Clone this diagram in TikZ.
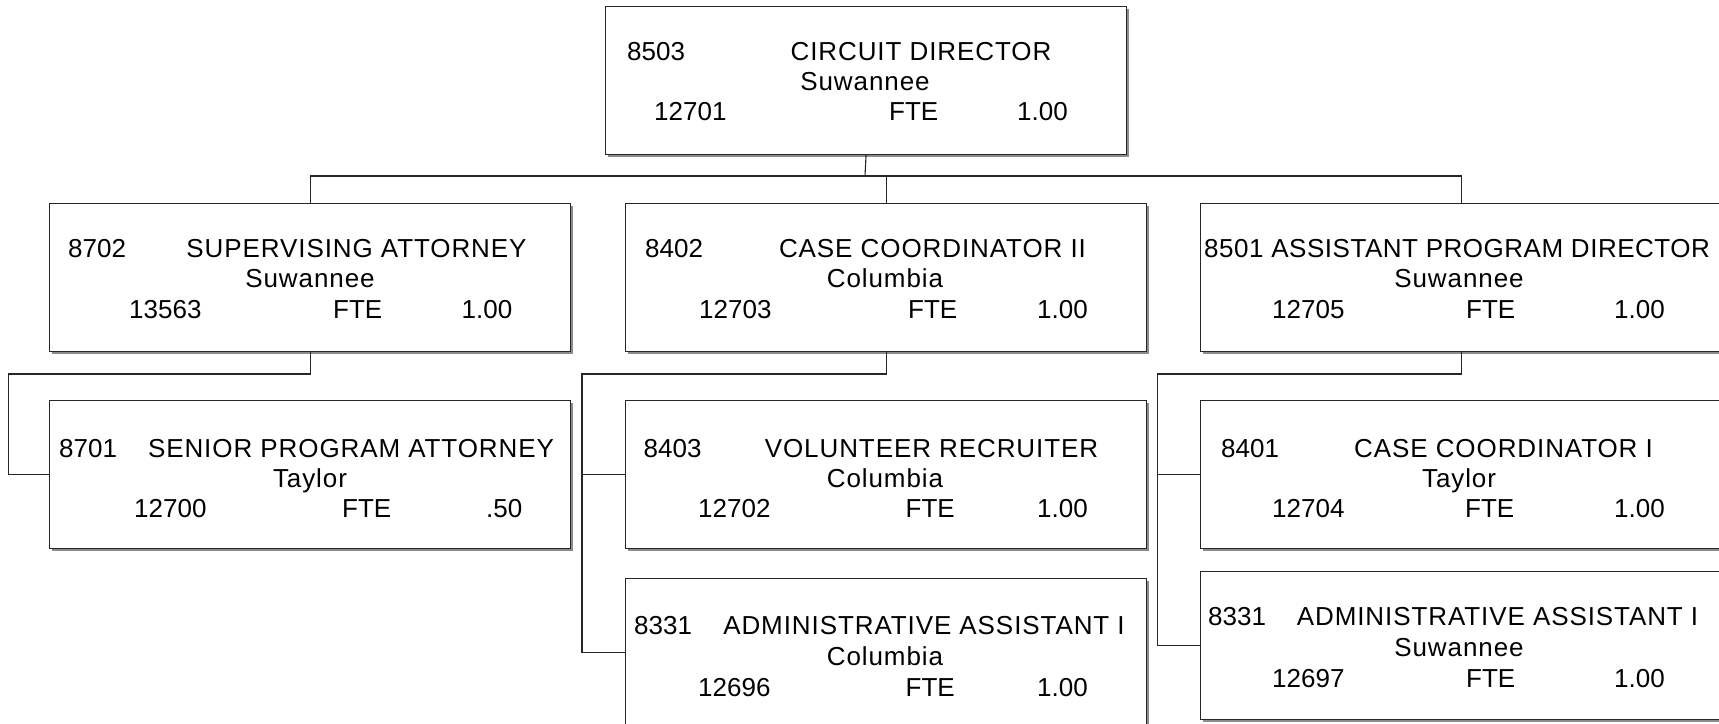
\documentclass[tikz,border=0pt]{standalone}
\usepackage{fontspec}
\setmainfont{Liberation Sans}
\usetikzlibrary{shadows}
\tikzset{
  obox/.style={draw=black!85, line width=1.1pt, fill=white, minimum width=521pt,
    minimum height=148pt, inner sep=0pt, anchor=north west,
    drop shadow={shadow xshift=2.6pt, shadow yshift=-2.6pt, fill=black!45, opacity=1}},
  txt/.style={inner sep=0pt, font=\fontsize{26}{30}\selectfont, text=black},
  wtxt/.style={txt, font=\fontsize{26}{30}\selectfont\addfontfeature{LetterSpace=3.5}},
  ntxt/.style={txt, font=\fontsize{26}{30}\selectfont\addfontfeature{LetterSpace=2}},
  conn/.style={draw=black!85, line width=1.1pt}
}
\newcommand\tx[4]{\node[txt,anchor=#2] (#1) at (#3) {#4};}
\newcommand\tw[4]{\node[wtxt,anchor=#2] (#1) at (#3) {#4};}
\begin{document}
\begin{tikzpicture}[x=1pt,y=-1pt]
\useasboundingbox (0,0) rectangle (1719,723);
\clip (0,0) rectangle (1719,723);
% boxes
\node[obox] (T) at (605,6) {};
\node[obox] (A) at (49,203) {};
\node[obox] (B) at (625,203) {};
\node[obox] (C) at (1200,203) {};
\node[obox] (D) at (49,400) {};
\node[obox] (E) at (625,400) {};
\node[obox] (F) at (1200,400) {};
\node[obox] (G) at (625,578) {};
\node[obox] (H) at (1200,571) {};
% connectors
\coordinate (bus) at (865,176);
\draw[conn] (T.south) -- (bus);
\draw[conn] (A.north) |- (bus);
\draw[conn] (C.north) |- (bus);
\draw[conn] (B.north) -- (B.north |- bus);
\coordinate (lA) at (8.5,374);
\coordinate (lB) at (582,374);
\coordinate (lC) at (1157.5,374);
\draw[conn] (A.south) |- (lA) |- (D.west);
\draw[conn] (B.south) |- (lB) |- (G.west);
\draw[conn] (lB) |- (E.west);
\draw[conn] (C.south) |- (lC) |- (H.west);
\draw[conn] (lC) |- (F.west);
% texts T
\tx{T1}{base west}{627,60}{8503}
\tw{T2}{base}{921,60}{CIRCUIT DIRECTOR}
\tw{T3}{base}{865,90}{Suwannee}
\tx{T4}{base west}{654,120}{12701}
\tx{T5}{base west}{889,120}{FTE}
\tx{T6}{base west}{1017,120}{1.00}
% A
\tx{A1}{base west}{68,257}{8702}
\tw{A2}{base}{356.5,257}{SUPERVISING ATTORNEY}
\tw{A3}{base}{310,287}{Suwannee}
\tx{A4}{base west}{129,318}{13563}
\tx{A5}{base west}{333,318}{FTE}
\tx{A6}{base west}{461.5,318}{1.00}
% B
\tx{B1}{base west}{645,257}{8402}
\tw{B2}{base}{932.5,257}{CASE COORDINATOR II}
\tw{B3}{base}{885,287}{Columbia}
\tx{B4}{base west}{699,318}{12703}
\tx{B5}{base west}{908,318}{FTE}
\tx{B6}{base west}{1037,318}{1.00}
% C
\node[ntxt,anchor=base west] (C1) at (1204,257) {8501 ASSISTANT PROGRAM DIRECTOR};
\tw{C3}{base}{1459,287}{Suwannee}
\tx{C4}{base west}{1272,318}{12705}
\tx{C5}{base west}{1466,318}{FTE}
\tx{C6}{base west}{1614,318}{1.00}
% D
\tx{D1}{base west}{59,457}{8701}
\tw{D2}{base}{351,457}{SENIOR PROGRAM ATTORNEY}
\tw{D3}{base}{310,487}{Taylor}
\tx{D4}{base west}{134,517}{12700}
\tx{D5}{base west}{342,517}{FTE}
\tx{D6}{base west}{486,517}{.50}
% E
\tx{E1}{base west}{643.5,457}{8403}
\tw{E2}{base}{931.5,457}{VOLUNTEER RECRUITER}
\tw{E3}{base}{885,487}{Columbia}
\tx{E4}{base west}{698,517}{12702}
\tx{E5}{base west}{905.5,517}{FTE}
\tx{E6}{base west}{1037,517}{1.00}
% F
\tx{F1}{base west}{1221,457}{8401}
\tw{F2}{base}{1503.5,457}{CASE COORDINATOR I}
\tw{F3}{base}{1459,487}{Taylor}
\tx{F4}{base west}{1272,517}{12704}
\tx{F5}{base west}{1465,517}{FTE}
\tx{F6}{base west}{1614,517}{1.00}
% G
\tx{G1}{base west}{634,634}{8331}
\tw{G2}{base}{924,634}{ADMINISTRATIVE ASSISTANT I}
\tw{G3}{base}{885,665}{Columbia}
\tx{G4}{base west}{698,696}{12696}
\tx{G5}{base west}{905.5,696}{FTE}
\tx{G6}{base west}{1037,696}{1.00}
% H
\tx{H1}{base west}{1208,625}{8331}
\tw{H2}{base}{1497.5,625}{ADMINISTRATIVE ASSISTANT I}
\tw{H3}{base}{1459,656}{Suwannee}
\tx{H4}{base west}{1272,687}{12697}
\tx{H5}{base west}{1466,687}{FTE}
\tx{H6}{base west}{1614,687}{1.00}
\end{tikzpicture}
\end{document}
